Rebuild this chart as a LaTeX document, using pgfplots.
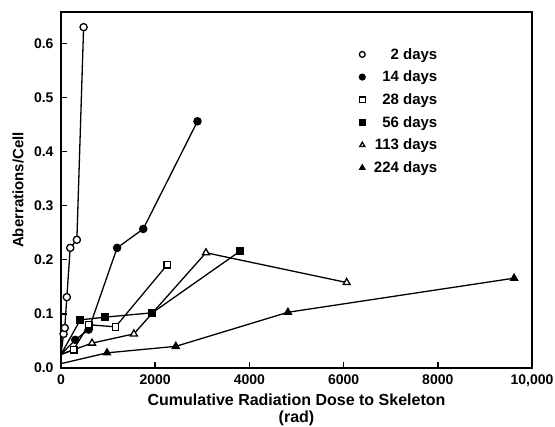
\documentclass[border=0pt]{standalone}
\usepackage{fontspec}
\setmainfont{Liberation Sans}
\usepackage{pgfplots}
\pgfplotsset{compat=1.18}
\usetikzlibrary{calc}
\begin{document}
\begin{tikzpicture}[font=\fontsize{15}{17}\selectfont\bfseries]
\begin{axis}[name=ax, scale only axis, width=471pt, height=356pt,
  xmin=0, xmax=10000, ymin=0, ymax=0.658,
  scaled x ticks=false, scaled y ticks=false,
  xtick={0,2000,4000,6000,8000,10000},
  xticklabels={0,2000,4000,6000,8000,{10,000}},
  ytick={0,0.1,0.2,0.3,0.4,0.5,0.6},
  yticklabels={0.0,0.1,0.2,0.3,0.4,0.5,0.6},
  tick pos=left, tick align=inside, major tick length=6pt,
  axis line style={line width=1.6pt},
  every tick/.style={line width=1.4pt, black},
  ticklabel style={font=\fontsize{14}{16}\selectfont\bfseries},
  yticklabel style={xshift=-4pt},
  xticklabel style={yshift=-3pt},
  xlabel={Cumulative Radiation Dose to Skeleton\\(rad)},
  xlabel style={at={(axis description cs:0.5,0)}, anchor=north, yshift=-26pt, inner sep=0pt, align=center, font=\fontsize{16}{17}\selectfont\bfseries},
  ylabel={Aberrations/Cell},
  ylabel style={at={(axis description cs:-0.0913,0.5)}, anchor=center, inner sep=0pt},
  legend image code/.code={\draw[#1, mark indices={1}, mark size=2.9pt] plot[only marks] coordinates {(0pt,0pt)}; \path (9pt,0pt);},
  legend style={draw=none, fill=none, at={(0.81,0.91)}, anchor=north east,
    cells={anchor=east}, row sep=6.3pt, font=\fontsize{15}{17}\selectfont\bfseries},
  every axis plot/.append style={black, line width=1.3pt, mark size=3.6pt},
]
\addplot[mark=*, mark options={fill=white}, mark indices={2,3,4,5,6,7}] coordinates {
 (0,0.025) (55,0.063) (80,0.074) (124,0.131) (196,0.222) (337,0.237) (480,0.630)};
\addlegendentry{2 days}
\addplot[mark=*, mark options={fill=black}, mark indices={2,3,4,5,6}] coordinates {
 (0,0.025) (303,0.052) (587,0.071) (1191,0.222) (1746,0.257) (2898,0.456)};
\addlegendentry{14 days}
\addplot[mark=square*, mark options={fill=white}, mark size=3.3pt, mark indices={2,3,4,5}] coordinates {
 (0,0.025) (267,0.034) (587,0.080) (1157,0.076) (2258,0.191)};
\addlegendentry{28 days}
\addplot[mark=square*, mark options={fill=black}, mark size=3.3pt, mark indices={2,3,4,5}] coordinates {
 (0,0.025) (410,0.089) (943,0.094) (1938,0.102) (3803,0.216)};
\addlegendentry{56 days}
\addplot[mark=triangle*, mark options={fill=white}, mark size=4pt, mark indices={2,3,4,5}] coordinates {
 (0,0.025) (658,0.046) (1547,0.063) (3077,0.213) (6065,0.158)};
\addlegendentry{113 days}
\addplot[mark=triangle*, mark options={fill=black}, mark size=4pt, mark indices={2,3,4,5}] coordinates {
 (0,0.008) (977,0.028) (2437,0.040) (4819,0.103) (9620,0.166)};
\addlegendentry{224 days}
\end{axis}
\pgfresetboundingbox
\path ($(ax.south west)+(-61pt,-59pt)$) rectangle ($(ax.north east)+(23pt,12pt)$);
\end{tikzpicture}
\end{document}
